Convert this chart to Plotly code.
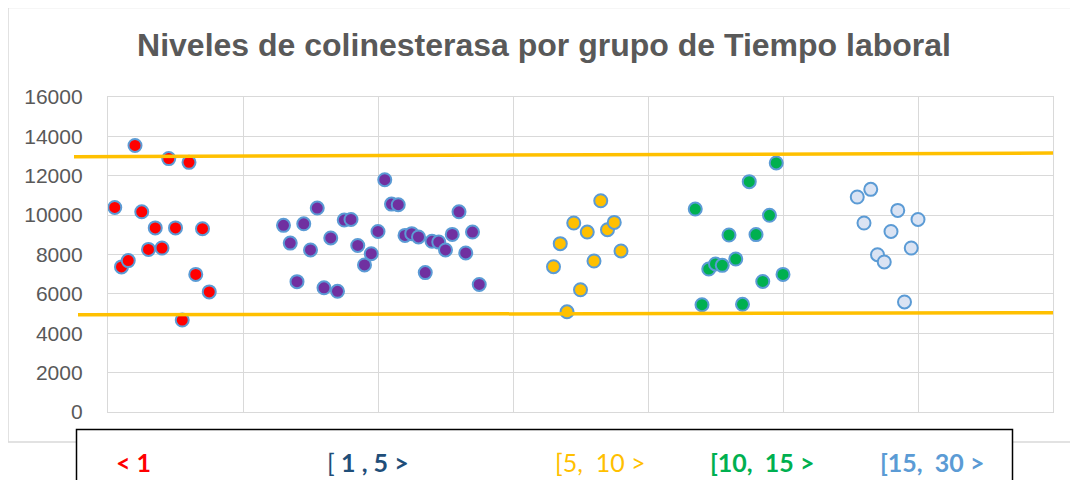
import plotly.graph_objects as go

# ---------------- data ----------------
grupo_lt1_x = [0.1, 0.2, 0.3, 0.4, 0.5, 0.6, 0.7, 0.8, 0.9, 1.0, 1.1, 1.2, 1.3, 1.4, 1.5]
grupo_lt1_y = [10390, 7370, 7690, 13540, 10170, 8260, 9350, 8330, 12870, 9350, 4670, 12680, 6990, 9310, 6100]

grupo_1_5_x = [2.6, 2.7, 2.8, 2.9, 3.0, 3.1, 3.2, 3.3, 3.4, 3.5, 3.6, 3.7, 3.8, 3.9, 4.0,
               4.1, 4.2, 4.3, 4.4, 4.5, 4.6, 4.7, 4.8, 4.9, 5.0, 5.1, 5.2, 5.3, 5.4, 5.5]
grupo_1_5_y = [9480, 8580, 6620, 9560, 8230, 10360, 6310, 8840, 6130, 9750, 9780, 8460, 7470, 8040, 9170,
               11800, 10560, 10530, 8970, 9060, 8890, 7080, 8670, 8630, 8230, 9020, 10170, 8080, 9140, 6480]

grupo_5_10_x = [6.6, 6.7, 6.8, 6.9, 7.0, 7.1, 7.2, 7.3, 7.4, 7.5, 7.6]
grupo_5_10_y = [7380, 8550, 5090, 9600, 6210, 9140, 7670, 10730, 9260, 9630, 8180]

grupo_10_15_x = [8.7, 8.8, 8.9, 9.0, 9.1, 9.2, 9.3, 9.4, 9.5, 9.6, 9.7, 9.8, 9.9, 10.0]
grupo_10_15_y = [10310, 5450, 7260, 7520, 7450, 8990, 7770, 5470, 11700, 9010, 6630, 9990, 12650, 6990]

grupo_15_30_x = [11.1, 11.2, 11.3, 11.4, 11.5, 11.6, 11.7, 11.8, 11.9, 12.0]
grupo_15_30_y = [10920, 9600, 11310, 7990, 7620, 9170, 10240, 5590, 8330, 9780]

# reference limits (hand-drawn lines in the original): value at left end, value at right end
limite_superior = [12970, 13150]
limite_inferior = [4940, 5040]

grupos = ["< 1", "[ 1 , 5 >", "[5,  10 >", "[10,  15 >", "[15,  30 >"]
etiquetas = ["<b>< 1</b>", "[ <b>1 , 5 ></b>", "[5,&nbsp; 10 >", "<b>[10,&nbsp; 15 ></b>", "<b>[15,&nbsp; 30 ></b>"]
colores = ["#FF0000", "#7030A0", "#FFC000", "#00B050", "#DAE3F3"]
colores_texto = ["#FF0000", "#1F4E79", "#FFC000", "#00B050", "#5B9BD5"]

y_ticks = [0, 2000, 4000, 6000, 8000, 10000, 12000, 14000, 16000]

# ---------------- layout geometry (pixels, in screenshot coordinates) ----------------
OFF = 8                      # page body margin of the html page
W, H = 1078 - OFF, 480 - OFF
PL, PR, PT, PB = 108, 1053, 97, 412   # plot area in screenshot pixels


def px_x(p):
    return (p - PL) / (PR - PL)


def px_y(p):
    return (PB - p) / (PB - PT)


fig = go.Figure()

series = [
    (grupo_lt1_x, grupo_lt1_y),
    (grupo_1_5_x, grupo_1_5_y),
    (grupo_5_10_x, grupo_5_10_y),
    (grupo_10_15_x, grupo_10_15_y),
    (grupo_15_30_x, grupo_15_30_y),
]
for (xs, ys), name, col in zip(series, grupos, colores):
    fig.add_trace(go.Scatter(
        x=xs, y=ys, mode="markers", name=name, showlegend=False,
        marker=dict(size=13, color=col, line=dict(color="#5B9BD5", width=2)),
        cliponaxis=False,
    ))

# reference lines
fig.add_shape(type="line", xref="paper", yref="y",
              x0=px_x(74), x1=1.0, y0=limite_superior[0], y1=limite_superior[1],
              line=dict(color="#FFC000", width=3.5), layer="above")
fig.add_shape(type="line", xref="paper", yref="y",
              x0=px_x(78), x1=1.0, y0=limite_inferior[0], y1=limite_inferior[1],
              line=dict(color="#FFC000", width=3.5), layer="above")

# outer chart border
fig.add_shape(type="rect", xref="paper", yref="paper",
              x0=px_x(8), x1=px_x(1090), y0=px_y(442), y1=px_y(7.5),
              line=dict(color="#D9D9D9", width=1.5), fillcolor="rgba(0,0,0,0)", layer="below")

# legend box
fig.add_shape(type="rect", xref="paper", yref="paper",
              x0=px_x(76.5), x1=px_x(1012.5), y0=px_y(495), y1=px_y(429.5),
              line=dict(color="#000000", width=1.5), fillcolor="white", layer="above")

legend_centers = [133, 368, 600, 762, 932]
for txt, col, cx in zip(etiquetas, colores_texto, legend_centers):
    fig.add_annotation(
        xref="paper", yref="paper", x=px_x(cx), y=px_y(462),
        text=txt, showarrow=False,
        xanchor="center", yanchor="middle",
        font=dict(family="Lato, Calibri, sans-serif", size=25, color=col),
    )

fig.update_layout(
    width=W, height=H,
    margin=dict(l=PL - OFF, r=1078 - PR, t=PT - OFF, b=480 - PB),
    paper_bgcolor="white", plot_bgcolor="white",
    title=dict(
        text="<b>Niveles de colinesterasa por grupo de Tiempo laboral</b>",
        x=(544 - OFF) / W, xanchor="center", y=1 - (45 - OFF) / H, yanchor="middle",
        font=dict(family="Liberation Sans, Arial, sans-serif", size=32, color="#595959"),
    ),
    showlegend=False,
)
fig.update_xaxes(range=[0, 14], dtick=2, showticklabels=False, ticks="",
                 showgrid=True, gridcolor="#D9D9D9", gridwidth=1.3,
                 zeroline=False, showline=True, mirror=True, linecolor="#D9D9D9", linewidth=1.3)
fig.update_yaxes(range=[0, 16000], tickvals=y_ticks, ticktext=[str(v) for v in y_ticks],
                 ticks="", ticklabelstandoff=20,
                 tickfont=dict(family="Liberation Sans, Arial, sans-serif", size=21, color="#595959"),
                 showgrid=True, gridcolor="#D9D9D9", gridwidth=1.3,
                 zeroline=False, showline=True, mirror=True, linecolor="#D9D9D9", linewidth=1.3)

fig.write_html("out.html")
